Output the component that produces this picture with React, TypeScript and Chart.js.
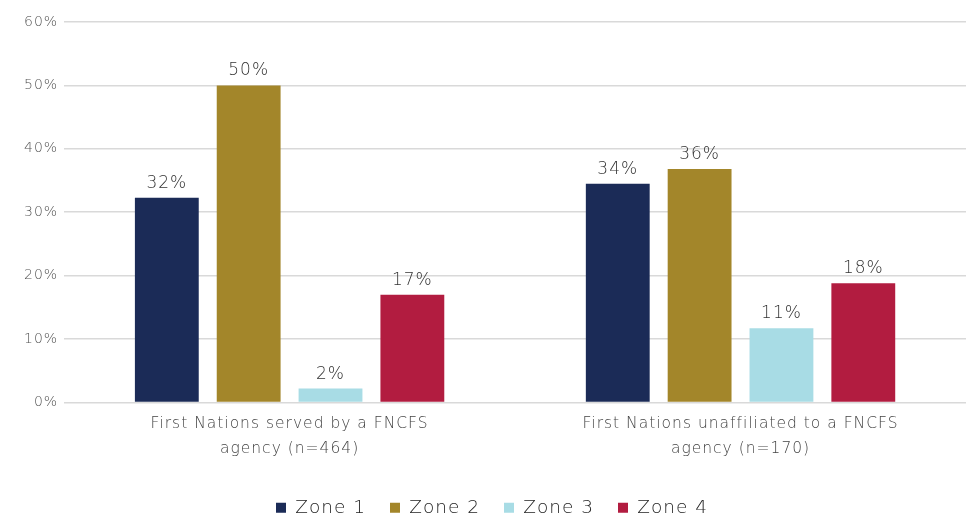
import React, { useEffect, useRef } from "react";
import { Chart, registerables } from "chart.js";

Chart.register(...registerables);

const categories: string[][] = [
  ["First Nations served by a FNCFS", "agency (n=464)"],
  ["First Nations unaffiliated to a FNCFS", "agency (n=170)"],
];
const zoneNames = ["Zone 1", "Zone 2", "Zone 3", "Zone 4"];
const zone1 = [32.3, 34.5];
const zone2 = [50, 36.8];
const zone3 = [2.2, 11.7];
const zone4 = [17, 18.8];
const zone1Labels = ["32%", "34%"];
const zone2Labels = ["50%", "36%"];
const zone3Labels = ["2%", "11%"];
const zone4Labels = ["17%", "18%"];
const yTicks = [0, 10, 20, 30, 40, 50, 60];
const colors = ["#1b2b57", "#a3862a", "#a8dce5", "#b21c40"];

const FONT = "'DejaVu Sans', sans-serif";
const WEIGHT = 200;

const spacingPlugin = {
  id: "letterSpacing",
  beforeUpdate(chart: any) {
    chart.ctx.letterSpacing = "1px";
  },
  beforeDraw(chart: any) {
    chart.ctx.letterSpacing = "1px";
  },
};

const valueLabelPlugin = {
  id: "valueLabels",
  afterDatasetsDraw(chart: any) {
    const ctx = chart.ctx;
    ctx.save();
    ctx.letterSpacing = "1px";
    ctx.font = `${WEIGHT} 17px ${FONT}`;
    ctx.fillStyle = "#333";
    ctx.textAlign = "center";
    ctx.textBaseline = "alphabetic";
    chart.data.datasets.forEach((ds: any, i: number) => {
      const meta = chart.getDatasetMeta(i);
      meta.data.forEach((bar: any, j: number) => {
        ctx.fillText(ds.valueLabels[j], bar.x, bar.y - 10);
      });
    });
    ctx.restore();
  },
};

export default function App() {
  const ref = useRef<HTMLCanvasElement>(null);
  useEffect(() => {
    const series = [zone1, zone2, zone3, zone4];
    const labelSets = [zone1Labels, zone2Labels, zone3Labels, zone4Labels];
    const chart = new Chart(ref.current!, {
      type: "bar",
      data: {
        labels: categories,
        datasets: series.map((d, i) => ({
          label: zoneNames[i],
          data: d,
          backgroundColor: colors[i],
          borderWidth: 0,
          categoryPercentage: 0.726,
          barPercentage: 0.78,
          valueLabels: labelSets[i],
        })) as any,
      },
      plugins: [spacingPlugin, valueLabelPlugin],
      options: {
        animation: false,
        responsive: false,
        maintainAspectRatio: false,
        layout: { padding: { left: 18, right: 0, top: 22, bottom: -10 } },
        plugins: {
          tooltip: { enabled: false },
          legend: {
            position: "bottom",
            title: {
              display: true,
              text: "",
              font: { size: 12, lineHeight: 1 },
              padding: 0,
            },
            labels: {
              boxWidth: 10,
              boxHeight: 10,
              padding: 24,
              color: "#222",
              font: { family: FONT, size: 18.5, weight: WEIGHT as any },
            },
          },
        },
        scales: {
          x: {
            grid: { display: false },
            border: { display: false },
            ticks: {
              color: "#444",
              font: { family: FONT, size: 15.5, lineHeight: 1.55, weight: WEIGHT as any },
              padding: 2,
              maxRotation: 0,
            },
          },
          y: {
            min: 0,
            max: 60,
            afterBuildTicks: (axis: any) => {
              axis.ticks = yTicks.map((v) => ({ value: v }));
            },
            grid: { color: "#d9d9d9", lineWidth: 1.5, drawTicks: false },
            border: { display: false },
            ticks: {
              color: "#555",
              font: { family: FONT, size: 14, weight: WEIGHT as any },
              padding: 6,
              callback: (v: any) => `${v}%`,
            },
          },
        },
      },
    });
    return () => chart.destroy();
  }, []);
  return (
    <div style={{ position: "fixed", left: 0, top: 0, width: 966, height: 517, background: "#fff" }}>
      <canvas ref={ref} width={966} height={517} style={{ width: 966, height: 517 }} />
    </div>
  );
}
